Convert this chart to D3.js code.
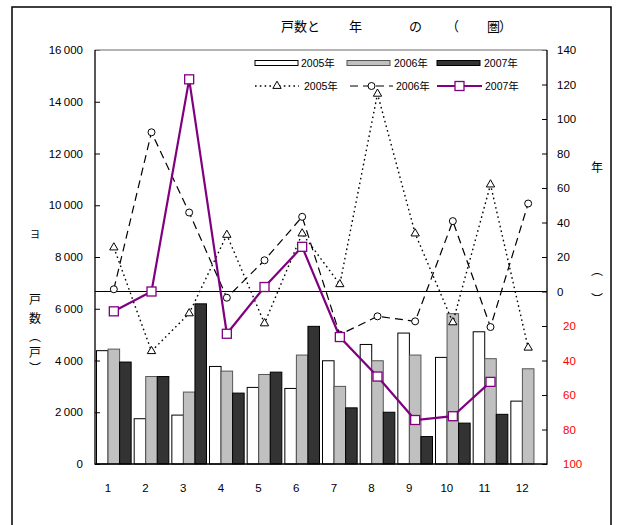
<!DOCTYPE html>
<html>
<head>
<meta charset="utf-8">
<script src="https://cdn.jsdelivr.net/npm/d3@7"></script>
<style>
  body { margin: 0; background: #fff; }
  svg { display: block; }
  text { font-family: "Liberation Sans", Arial, "Noto Sans CJK JP", sans-serif; }
  .cjk { font-family: "Noto Sans CJK JP", sans-serif; }
</style>
</head>
<body>
<svg id="chart" width="620" height="525"></svg>
<script>
// Monthly housing starts (units) and year-on-year change (%)
const months = ["1", "2", "3", "4", "5", "6", "7", "8", "9", "10", "11", "12"];
const seriesNames = ["2005年", "2006年", "2007年"];

const units2005 = [4380, 1750, 1890, 3770, 2960, 2920, 3990, 4620, 5060, 4120, 5110, 2430];
const units2006 = [4440, 3380, 2780, 3590, 3460, 4210, 3000, 3990, 4210, 5810, 4070, 3680];
const units2007 = [3940, 3380, 6190, 2740, 3550, 5320, 2170, 2000, 1060, 1580, 1920, null];

const yoy2005 = [25.5, -34.6, -12.7, 32.8, -18.5, 33.6, 4.2, 114.6, 33.6, -17.9, 62, -32.6];
const yoy2006 = [1.3, 92.3, 45.8, -3.6, 18.1, 43.3, -25, -14.4, -17.3, 40.8, -20.6, 51];
const yoy2007 = [-11.5, 0, 123, -24.5, 2.6, 25.9, -26.4, -49.3, -74.5, -72.3, -52.4, null];

const unitTicks = [0, 2000, 4000, 6000, 8000, 10000, 12000, 14000, 16000];
const pctTicks = [-100, -80, -60, -40, -20, 0, 20, 40, 60, 80, 100, 120, 140];

const svg = d3.select("#chart");
const P = { left: 95, right: 547, top: 50, bottom: 464 };

// outer border
svg.append("rect")
  .attr("x", 12).attr("y", 7).attr("width", 599).attr("height", 540)
  .attr("fill", "none").attr("stroke", "#000").attr("stroke-width", 1.5);

// title
const title = svg.append("text").attr("class", "cjk")
  .attr("y", 25).attr("dominant-baseline", "central")
  .attr("font-size", 13).attr("fill", "#000");
[["戸数と", 281], ["年", 349], ["の", 409], ["（", 446], ["圏", 487], ["）", 499]]
  .forEach(([t, xx]) => title.append("tspan").attr("x", xx).text(t));

// scales
const x = d3.scaleBand().domain(months).range([P.left, P.right])
  .paddingInner(0.08).paddingOuter(0.04);
const xs = d3.scaleBand().domain([0, 1, 2]).range([0, x.bandwidth()]);
const yL = d3.scaleLinear().domain([0, 16000]).range([P.bottom, P.top]);
const yR = d3.scaleLinear().domain([-100, 140]).range([P.bottom, P.top]);

// bars
const unitSeries = [units2005, units2006, units2007];
const barFill = ["#ffffff", "#c0c0c0", "#333333"];
const barStroke = ["#000000", "#555555", "#000000"];
unitSeries.forEach((vals, s) => {
  svg.append("g").selectAll("rect")
    .data(vals.map((v, i) => ({ m: months[i], v })).filter(d => d.v != null))
    .join("rect")
    .attr("x", d => x(d.m) + xs(s))
    .attr("y", d => yL(d.v))
    .attr("width", xs.bandwidth())
    .attr("height", d => yL(0) - yL(d.v))
    .attr("fill", barFill[s])
    .attr("stroke", barStroke[s])
    .attr("stroke-width", 1);
});

// zero line of the percentage axis
svg.append("line")
  .attr("x1", P.left).attr("x2", P.right)
  .attr("y1", yR(0)).attr("y2", yR(0))
  .attr("stroke", "#000").attr("stroke-width", 1);

// left axis (units)
const axL = svg.append("g").attr("transform", `translate(${P.left},0)`)
  .call(d3.axisLeft(yL).tickValues(unitTicks).tickSize(-5).tickPadding(12)
    .tickFormat(d => d3.format(",")(d).replace(",", "\u2009")));
axL.select(".domain").remove();
axL.selectAll("line").attr("stroke", "#000");
axL.selectAll("text").attr("font-size", 11.5).attr("fill", "#000").attr("font-family", null);

// right axis (percent)
const axR = svg.append("g").attr("transform", `translate(${P.right},0)`)
  .call(d3.axisRight(yR).tickValues(pctTicks).tickSize(-5).tickPadding(10)
    .tickFormat(d => Math.abs(d)));
axR.select(".domain").remove();
axR.selectAll("line").attr("stroke", "#000");
axR.selectAll("text").attr("font-size", 11.5).attr("font-family", null)
  .attr("fill", d => d < 0 ? "#ff0000" : "#000")
  .attr("dx", d => d < 0 ? 6 : 0);

// x axis labels
const axX = svg.append("g").attr("transform", `translate(0,${P.bottom})`)
  .call(d3.axisBottom(x).tickSize(0).tickPadding(20));
axX.select(".domain").remove();
axX.selectAll("text").attr("font-size", 11.5).attr("fill", "#000")
  .attr("font-family", null).attr("dx", -6);

// plot frame
svg.append("line").attr("x1", P.left).attr("x2", P.right).attr("y1", P.top).attr("y2", P.top)
  .attr("stroke", "#9a9a9a").attr("stroke-width", 1.5);
svg.append("path")
  .attr("d", `M${P.left},${P.top}V${P.bottom}H${P.right}V${P.top}`)
  .attr("fill", "none").attr("stroke", "#000").attr("stroke-width", 1.3);

// axis titles
const sideText = (t, xx, yy, size) => svg.append("text").attr("class", "cjk")
  .attr("x", xx).attr("y", yy).attr("text-anchor", "middle")
  .attr("dominant-baseline", "central").attr("font-size", size).attr("fill", "#000").text(t);
sideText("ヨ", 35, 233, 10);
[["戸", 298], ["数", 317], ["︵", 335], ["戸", 351], ["︶", 367]]
  .forEach(([t, yy]) => sideText(t, 35, yy, 12));
sideText("年", 597, 166, 12);
sideText("︵", 597, 269, 12);
sideText("︶", 597, 298, 12);

// lines
const cx = i => x(months[i]) + x.bandwidth() / 2;
const line = d3.line().defined(d => d.v != null).x(d => cx(d.i)).y(d => yR(d.v));
const pts = vals => vals.map((v, i) => ({ i, v }));

const lineStyles = [
  { color: "#000", width: 1.4, dash: "1.6,3.2" },
  { color: "#000", width: 1.2, dash: "8,5" },
  { color: "#800080", width: 2.2, dash: null }
];
const pctSeries = [yoy2005, yoy2006, yoy2007];

pctSeries.forEach((vals, s) => {
  svg.append("path")
    .datum(pts(vals))
    .attr("d", line)
    .attr("fill", "none")
    .attr("stroke", lineStyles[s].color)
    .attr("stroke-width", lineStyles[s].width)
    .attr("stroke-dasharray", lineStyles[s].dash);
});

const triangle = d3.symbol(d3.symbolTriangle, 30)();
function drawMarker(g, s, px, py) {
  if (s === 0) {
    g.append("path").attr("d", triangle).attr("transform", `translate(${px},${py})`)
      .attr("fill", "#fff").attr("stroke", "#000").attr("stroke-width", 1);
  } else if (s === 1) {
    g.append("circle").attr("cx", px).attr("cy", py).attr("r", 3.5)
      .attr("fill", "#fff").attr("stroke", "#000").attr("stroke-width", 1);
  } else {
    g.append("rect").attr("x", px - 4.5).attr("y", py - 4.5).attr("width", 9).attr("height", 9)
      .attr("fill", "#fff").attr("stroke", "#800080").attr("stroke-width", 1.3);
  }
}
pctSeries.forEach((vals, s) => {
  const g = svg.append("g");
  vals.forEach((v, i) => { if (v != null) drawMarker(g, s, cx(i), yR(v)); });
});

// legend
const legend = svg.append("g");
const barLegendX = [255, 347, 437];
const barTextX = [301, 394, 484];
seriesNames.forEach((name, s) => {
  legend.append("rect").attr("x", barLegendX[s]).attr("y", 60.5).attr("width", 43).attr("height", 5)
    .attr("fill", barFill[s]).attr("stroke", barStroke[s]).attr("stroke-width", 1);
  legend.append("text").attr("x", barTextX[s]).attr("y", 63)
    .attr("dominant-baseline", "central").attr("font-size", 10.5).attr("fill", "#000").text(name);
});
const lineLegendX = [[255, 299], [350, 393], [437, 482]];
const lineTextX = [304, 396, 485];
seriesNames.forEach((name, s) => {
  const [a, b] = lineLegendX[s];
  legend.append("line").attr("x1", a).attr("x2", b).attr("y1", 86).attr("y2", 86)
    .attr("stroke", lineStyles[s].color).attr("stroke-width", lineStyles[s].width)
    .attr("stroke-dasharray", lineStyles[s].dash);
  drawMarker(legend, s, (a + b) / 2, 86);
  legend.append("text").attr("x", lineTextX[s]).attr("y", 86)
    .attr("dominant-baseline", "central").attr("font-size", 10.5).attr("fill", "#000").text(name);
});
</script>
</body>
</html>
